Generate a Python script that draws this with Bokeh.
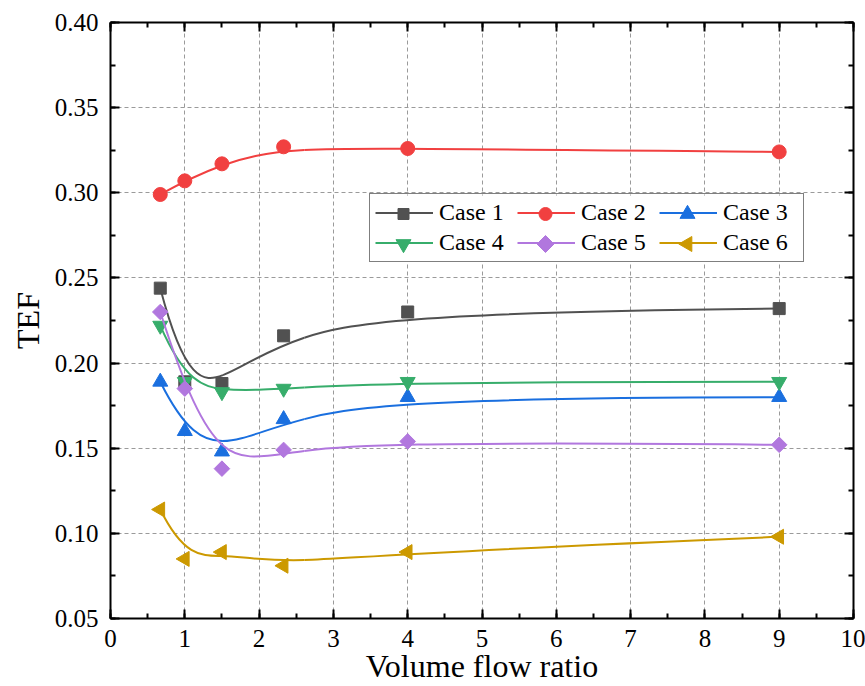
import numpy as np
from bokeh.plotting import figure
from bokeh.models import Range1d, LinearAxis, FixedTicker, Legend, LegendItem
from bokeh.embed import file_html
from bokeh.resources import INLINE

# ---- data ----
x_ratio = [0.67, 1.0, 1.5, 2.33, 4.0, 9.0]
case1 = [0.244, 0.189, 0.188, 0.216, 0.230, 0.232]
case2 = [0.299, 0.307, 0.317, 0.327, 0.326, 0.324]
case3 = [0.189, 0.160, 0.148, 0.167, 0.180, 0.180]
case4 = [0.222, 0.189, 0.183, 0.185, 0.189, 0.189]
case5 = [0.230, 0.185, 0.138, 0.149, 0.154, 0.152]
case6 = [0.114, 0.085, 0.089, 0.081, 0.089, 0.098]
series = [case1, case2, case3, case4, case5, case6]
names = ["Case 1", "Case 2", "Case 3", "Case 4", "Case 5", "Case 6"]
x_ticks = [0, 1, 2, 3, 4, 5, 6, 7, 8, 9, 10]
y_ticks = [0.05, 0.10, 0.15, 0.20, 0.25, 0.30, 0.35, 0.40]
y_tick_labels = ["0.05", "0.10", "0.15", "0.20", "0.25", "0.30", "0.35", "0.40"]
x_title = "Volume flow ratio"
y_title = "TEF"

colors = ["#515151", "#F14040", "#1A6FDF", "#37AD6B", "#B177DE", "#CC9900"]
markers = ["square", "circle", "triangle", "inverted_triangle", "square", "triangle"]
angles = [0, 0, 0, 0, np.pi / 4, np.pi / 2]
sizes = [12, 14, 15, 15, 11, 15]
key_sizes = [11, 13, 15, 15, 12, 15]
FONT = "Liberation Serif"

# layout (screen px)
W, H = 865, 686
FL, FR, FT, FB = 110, 853, 22, 618          # frame edges
LEG_L, LEG_B = 369, 262                      # legend box left / bottom
PAD, GW, GH, STAND, LW, SP = 5, 58, 27, 6, 75, 3


def insert_knot(knots, P, u, p=3):
    k = max(i for i in range(len(knots) - 1) if knots[i] <= u < knots[i + 1])
    Q = []
    for i in range(len(P) + 1):
        if i <= k - p:
            Q.append(P[i])
        elif i <= k:
            a = (u - knots[i]) / (knots[i + p] - knots[i])
            Q.append((1 - a) * P[i - 1] + a * P[i])
        else:
            Q.append(P[i - 1])
    return knots[:k + 1] + [u] + knots[k + 1:], Q


def bspline_bezier(xs, ys, p=3):
    """Clamped cubic B-spline (Origin 'B-Spline' connection) -> Bezier segments."""
    P = [np.array([a, b], dtype=float) for a, b in zip(xs, ys)]
    nseg = len(P) - p
    knots = [0] * (p + 1) + list(range(1, nseg)) + [nseg] * (p + 1)
    for u in range(1, nseg):
        for _ in range(p - 1):
            knots, P = insert_knot(knots, P, u, p)
    segs = [P[3 * j:3 * j + 4] for j in range(nseg)]
    return dict(
        x0=[s[0][0] for s in segs], y0=[s[0][1] for s in segs],
        cx0=[s[1][0] for s in segs], cy0=[s[1][1] for s in segs],
        cx1=[s[2][0] for s in segs], cy1=[s[2][1] for s in segs],
        x1=[s[3][0] for s in segs], y1=[s[3][1] for s in segs],
    )


XR, YR = (0, 10), (0.05, 0.40)
p = figure(width=W, height=H, x_range=Range1d(*XR), y_range=Range1d(*YR),
           output_backend="svg", toolbar_location=None,
           min_border_left=FL, min_border_right=W - FR, min_border_top=FT,
           min_border_bottom=H - FB)
p.outline_line_color = None
p.background_fill_color = "white"
p.border_fill_color = "white"


def px_to_data(sx, sy):
    x = XR[0] + (sx - FL) / (FR - FL) * (XR[1] - XR[0])
    y = YR[1] - (sy - FT) / (FB - FT) * (YR[1] - YR[0])
    return x, y


# grid
for g in (p.xgrid, p.ygrid):
    g.grid_line_color = "#9a9a9a"
    g.grid_line_dash = "4 3"
    g.grid_line_width = 1
p.xgrid.ticker = FixedTicker(ticks=x_ticks)
p.ygrid.ticker = FixedTicker(ticks=y_ticks)


def style_axis(ax, labels=True):
    ax.axis_line_width = 2
    ax.axis_line_color = "black"
    ax.major_tick_in = 9
    ax.major_tick_out = 0
    ax.minor_tick_in = 5
    ax.minor_tick_out = 0
    ax.major_tick_line_width = 2
    ax.minor_tick_line_width = 2
    ax.major_label_text_font = FONT
    ax.major_label_text_color = "black"
    ax.axis_label_text_font = FONT
    ax.axis_label_text_font_style = "normal"
    ax.axis_label_text_color = "black"
    if labels:
        ax.major_label_text_font_size = "25px"
        ax.axis_label_text_font_size = "32px"
    else:
        ax.major_label_text_font_size = "0px"
        ax.major_label_text_color = None
        ax.major_label_standoff = 0


x_minor = [i * 0.5 for i in range(21)]
y_minor = [0.05 + i * 0.025 for i in range(15)]

bx = p.xaxis[0]
bx.ticker = FixedTicker(ticks=x_ticks, minor_ticks=x_minor)
bx.axis_label = x_title
style_axis(bx)
bx.major_label_standoff = 11
bx.axis_label_standoff = -2

ly = p.yaxis[0]
ly.ticker = FixedTicker(ticks=y_ticks, minor_ticks=y_minor)
ly.major_label_overrides = {t: s for t, s in zip(y_ticks, y_tick_labels)}
ly.axis_label = y_title
style_axis(ly)
ly.major_label_standoff = 12
ly.axis_label_standoff = 6

top = LinearAxis(ticker=FixedTicker(ticks=x_ticks, minor_ticks=x_minor))
style_axis(top, labels=False)
p.add_layout(top, "above")
right = LinearAxis(ticker=FixedTicker(ticks=y_ticks, minor_ticks=y_minor))
style_axis(right, labels=False)
p.add_layout(right, "right")

# legend geometry
n_rows, n_cols = 2, 3
col_pitch = GW + STAND + LW + SP
leg_w = 2 * PAD + n_cols * (GW + STAND + LW) + (n_cols - 1) * SP
leg_h = 2 * PAD + n_rows * GH + (n_rows - 1) * SP
leg_t = LEG_B - leg_h

# white legend background (drawn under the series, over the grid)
bl, bb = px_to_data(LEG_L, LEG_B)
br, bt = px_to_data(LEG_L + leg_w, leg_t)
p.quad(left=[bl], right=[br], bottom=[bb], top=[bt], fill_color="white", line_color=None)

items = {}
for ys, name, c, m, a, s in zip(series, names, colors, markers, angles, sizes):
    bz = p.bezier(source=bspline_bezier(x_ratio, ys), x0="x0", y0="y0", x1="x1", y1="y1",
                  cx0="cx0", cy0="cy0", cx1="cx1", cy1="cy1", line_color=c, line_width=2)
    p.scatter(x_ratio, ys, marker=m, angle=a, size=s, fill_color=c, line_color=c)
    items[name] = LegendItem(label=name, renderers=[bz])

# legend keys (Bokeh legends neither rotate nor size markers individually):
# drawn under the transparent legend, at the centre of each legend glyph box
for idx, (name, c, m, a, s) in enumerate(zip(names, colors, markers, angles, key_sizes)):
    r, col = divmod(idx, n_cols)
    sx = LEG_L + PAD + col * col_pitch + GW / 2
    sy = leg_t + PAD + r * (GH + SP) + GH / 2
    kx, ky = px_to_data(sx, sy)
    p.scatter([kx], [ky], marker=m, angle=a, size=s, fill_color=c, line_color=c)

# column-major fill order -> row-major appearance
order = ["Case 1", "Case 4", "Case 2", "Case 5", "Case 3", "Case 6"]
legend = Legend(items=[items[n] for n in order], ncols=n_cols,
                location=(LEG_L - FL, FB - LEG_B),
                label_text_font=FONT, label_text_font_size="24px",
                label_text_color="black", glyph_width=GW, glyph_height=GH,
                label_height=GH, label_width=LW, label_standoff=STAND, spacing=SP,
                padding=PAD, margin=0,
                border_line_color="black", border_line_width=1,
                background_fill_alpha=0)
p.add_layout(legend, "center")

open("out.html", "w").write(file_html(p, INLINE))
